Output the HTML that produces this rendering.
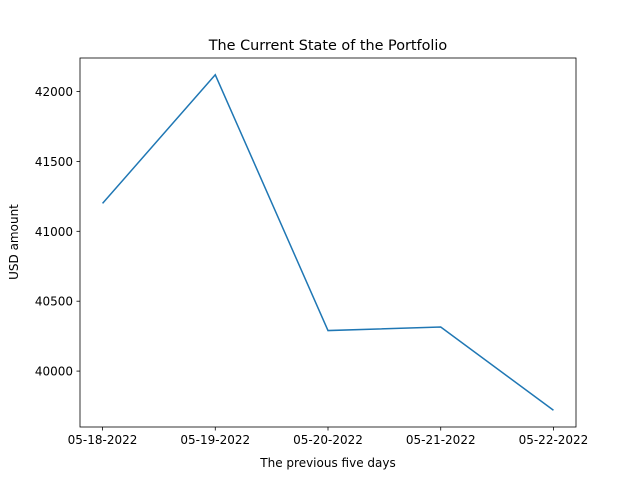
<!DOCTYPE html>
<html><head><meta charset="utf-8"><style>
body{margin:0;background:#fff}
svg{display:block;font-family:"DejaVu Sans","Liberation Sans",sans-serif}
</style></head><body>
<svg id="chart" width="640" height="480" viewBox="0 0 640 480">
<rect width="640" height="480" fill="#fff"/>
<text x="328" y="50" text-anchor="middle" font-size="14.4">The Current State of the Portfolio</text>
<g id="ticks"></g>
<path id="line" fill="none" stroke="#1f77b4" stroke-width="1.5"/>
<rect x="80" y="58" width="496" height="369" fill="none" stroke="#000" stroke-width="0.8"/>
<text x="328" y="467" text-anchor="middle" font-size="12">The previous five days</text>
<text transform="translate(18,242) rotate(-90)" text-anchor="middle" font-size="12">USD amount</text>
</svg>
<script>
const categories=["05-18-2022","05-19-2022","05-20-2022","05-21-2022","05-22-2022"];
const values=[41200,42120,40290,40315,39720];
const yTicks=[40000,40500,41000,41500,42000];
const L=80,R=576,T=58,B=427;
const n=categories.length;
const xmin=-0.2*(n-1)/4*1, span=(n-1)*1.1;
function xs(i){return L+(i+(n-1)*0.05)/((n-1)*1.1)*(R-L);}
const vmin=Math.min(...values),vmax=Math.max(...values),m=(vmax-vmin)*0.05;
const y0=vmin-m,y1=vmax+m;
function ys(v){return B-(v-y0)/(y1-y0)*(B-T);}
const NS="http://www.w3.org/2000/svg";
const g=document.getElementById('ticks');
function mk(t,a){const e=document.createElementNS(NS,t);for(const k in a)e.setAttribute(k,a[k]);g.appendChild(e);return e;}
categories.forEach((c,i)=>{
 const x=xs(i);
 const tk=mk('line',{x1:x,x2:x,y1:B,y2:B+3.5,stroke:'#000','stroke-width':0.8});
 
 
 const t=mk('text',{x:x,y:B+17,'text-anchor':'middle','font-size':12});
 t.textContent=c;
 
 
});
yTicks.forEach(v=>{
 const y=ys(v);
 const tk=mk('line',{x1:L-3.5,x2:L,y1:y,y2:y,stroke:'#000','stroke-width':0.8});
 
 
 const t=mk('text',{x:L-7,y:y+4.5,'text-anchor':'end','font-size':12});
 t.textContent=v;
 
 
});
document.getElementById('line').setAttribute('d',values.map((v,i)=>(i?'L':'M')+xs(i).toFixed(2)+','+ys(v).toFixed(2)).join(''));
</script>
</body></html>
